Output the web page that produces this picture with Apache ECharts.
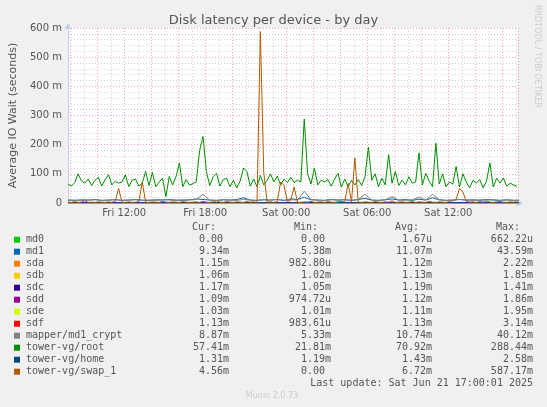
<!DOCTYPE html>
<html>
<head>
<meta charset="utf-8">
<script src="https://cdn.jsdelivr.net/npm/echarts@6/dist/echarts.min.js"></script>
<style>
html,body{margin:0;padding:0;background:#f0f0f0;}
#chart{width:547px;height:407px;}
</style>
</head>
<body>
<div id="chart"></div>
<script>
// ---- data (values in milliseconds, "m") ----
const seriesNames = ['md0','md1','sda','sdb','sdc','sdd','sde','sdf','mapper/md1_crypt','tower-vg/root','tower-vg/home','tower-vg/swap_1'];
const seriesColors = ['#00cc00','#0066b3','#ff8000','#ffcc00','#330099','#990099','#ccff00','#ff0000','#808080','#008f00','#00487d','#b35a00'];
const curText = ['0.00 ','9.34m','1.15m','1.06m','1.17m','1.09m','1.03m','1.13m','8.87m','57.41m','1.31m','4.56m'];
const minText = ['0.00 ','5.38m','982.80u','1.02m','1.05m','974.72u','1.01m','983.61u','5.33m','21.81m','1.19m','0.00 '];
const avgText = ['1.67u','11.07m','1.12m','1.13m','1.19m','1.12m','1.11m','1.13m','10.74m','70.92m','1.43m','6.72m'];
const maxText = ['662.22u','43.59m','2.22m','1.85m','1.41m','1.86m','1.95m','3.14m','40.12m','288.44m','2.58m','587.17m'];
const yTicks = [0,100,200,300,400,500,600];

// sampled every 15 minutes from Fri 07:50
const root = [65,58,70,100,75,68,82,60,78,88,
  58,80,97,62,75,68,72,97,56,78,
  82,58,68,108,60,105,56,72,85,22,
  91,62,90,137,56,80,62,66,73,180,
  228,108,60,90,102,58,80,85,56,78,
  52,75,120,108,58,82,56,94,62,78,
  100,72,92,62,82,70,88,70,78,72,
  288,100,65,120,62,78,72,80,58,82,
  102,55,82,56,78,62,80,60,90,192,
  78,100,56,85,62,166,68,108,60,78,
  62,90,68,72,172,62,102,75,56,205,
  65,100,56,72,65,125,55,100,72,52,
  78,68,80,52,75,137,55,85,68,86,
  58,68,62,57.41];
const swap1 = [3,2,5,2,3,8,2,3,2,4,
  3,2,4,2,6,50,3,2,4,2,
  3,5,72,3,2,4,3,2,6,3,
  2,4,3,2,5,3,2,3,4,2,
  6,3,2,4,8,3,2,5,3,2,
  4,3,2,5,3,4,2,587,105,3,
  4,2,5,72,60,4,10,55,3,2,
  4,3,6,2,3,4,2,5,3,2,
  4,6,3,67,4,155,3,2,4,3,
  2,5,3,2,4,3,8,2,3,4,
  2,3,5,2,4,3,2,6,3,2,
  4,3,2,5,8,12,50,38,6,3,
  4,2,5,3,7,3,2,4,5,3,
  2,4,3,4.56];
// sampled every 30 minutes
const md1 = [10,9,11,10,12,9,10,11,9,10,12,10,9,11,10,12,10,9,11,14,
  12,10,9,11,10,12,18,10,9,11,10,12,9,14,12,20,11,10,9,12,
  10,11,9,12,16,10,9,11,14,10,12,9,13,10,18,11,9,10,12,10,
  11,9,12,10,9,11,9.34,9.34];
const md1crypt = [9,10,8,10,11,9,10,12,9,10,11,9,10,9,12,10,9,11,10,12,
  30,10,9,11,10,9,12,10,9,11,10,12,9,11,10,40,12,10,9,11,
  10,12,9,11,30,10,9,11,22,10,9,11,20,10,30,11,9,10,12,10,
  9,11,10,12,9,10,8.87,8.87];
// sampled every 2 hours
const md0 = [0,0,0,0,0,0,0,0,0,0,0,0,0,0,0,0,0,0];
const sda = [1.1,1.2,1.1,1.0,1.2,1.1,1.1,1.3,1.1,1.0,1.1,1.2,1.1,1.1,1.2,1.1,1.15,1.15];
const sdb = [1.1,1.1,1.2,1.1,1.1,1.2,1.1,1.1,1.2,1.1,1.1,1.2,1.1,1.1,1.1,1.2,1.06,1.06];
const sdc = [1.2,1.2,1.1,1.2,1.2,1.3,1.2,1.2,1.1,1.2,1.2,1.2,1.3,1.2,1.2,1.1,1.17,1.17];
const sdd = [1.1,1.1,1.2,1.1,1.0,1.1,1.2,1.1,1.1,1.1,1.2,1.1,1.1,1.0,1.1,1.2,1.09,1.09];
const sde = [1.1,1.1,1.1,1.2,1.1,1.1,1.1,1.1,1.2,1.1,1.1,1.1,1.2,1.1,1.1,1.1,1.03,1.03];
const sdf = [1.1,1.2,1.1,1.1,1.1,1.2,1.1,1.1,1.1,1.2,1.1,1.1,1.1,1.2,1.1,1.1,1.13,1.13];
const home = [1.4,1.5,1.4,1.3,1.5,1.4,1.6,1.4,1.3,1.5,1.4,1.4,1.5,1.3,1.4,1.5,1.31,1.31];

const seriesData = [[md0,120],[md1,30],[sda,120],[sdb,120],[sdc,120],[sdd,120],[sde,120],[sdf,120],[md1crypt,30],[root,15],[home,120],[swap1,15]];

const START = new Date(2025,5,20,7,50).getTime();
const END = new Date(2025,5,21,17,10).getTime();
const HOUR = 3600000;
const DAYS = ['Sun','Mon','Tue','Wed','Thu','Fri','Sat'];
function pairs(vals, stepMin){ return vals.map((v,i)=>[START + i*stepMin*60000, v]); }
function pad(n){ return (n<10?'0':'')+n; }

const chart = echarts.init(document.getElementById('chart'), null, {renderer:'canvas'});
const FONT = '"DejaVu Sans", sans-serif';
const MONO = '10px "DejaVu Sans Mono", monospace';

const baseX = {type:'time', position:'bottom', min:START, max:END, axisTick:{show:false}, axisLabel:{show:false}, axisLine:{show:false}, splitLine:{show:false}};
const xAxes = [
  Object.assign({}, baseX, {minInterval:HOUR, maxInterval:HOUR,
    splitLine:{show:true, lineStyle:{color:'#d4d4d4', type:[1,2], width:1}},
    axisLabel:{show:true, color:'#555', fontFamily:FONT, fontSize:10, margin:5, hideOverlap:false, interval:0,
      formatter:function(v){ const d=new Date(v); if (d.getMinutes()!==0 || d.getHours()%6!==0) return ''; return DAYS[d.getDay()]+' '+pad(d.getHours())+':'+pad(d.getMinutes()); }}}),
  Object.assign({}, baseX, {minInterval:3*HOUR, maxInterval:3*HOUR,
    splitLine:{show:true, lineStyle:{color:'#f2a8a8', type:[1,2], width:1}}}),
  Object.assign({}, baseX, {minInterval:6*HOUR, maxInterval:6*HOUR,
    axisLine:{show:true, onZero:false, lineStyle:{color:'#c6cde8', width:1}, symbol:['none','arrow'], symbolSize:[6,7], symbolOffset:[0,5]}})
];

const graphics = [];
graphics.push({type:'text', x:537, y:5, rotation:-Math.PI/2, style:{text:'RRDTOOL / TOBI OETIKER', fill:'#cccccc', font:'8px "DejaVu Sans", sans-serif', textAlign:'left', verticalAlign:'middle'}});
const rowY0 = 239.7, rowDy = 12;
const hdrY = 227.7;
[['Cur:',216],['Min:',318],['Avg:',419],['Max:',520]].forEach(h=>{
  graphics.push({type:'text', x:h[1], y:hdrY, style:{text:h[0], fill:'#555', font:MONO, textAlign:'right', verticalAlign:'middle'}});
});
seriesNames.forEach((n,k)=>{
  const y = rowY0 + k*rowDy;
  graphics.push({type:'rect', shape:{x:14, y:y-3, width:6, height:6}, style:{fill:seriesColors[k]}});
  graphics.push({type:'text', x:26, y:y, style:{text:n, fill:'#555', font:MONO, textAlign:'left', verticalAlign:'middle'}});
  graphics.push({type:'text', x:229, y:y, style:{text:curText[k], fill:'#555', font:MONO, textAlign:'right', verticalAlign:'middle'}});
  graphics.push({type:'text', x:331, y:y, style:{text:minText[k], fill:'#555', font:MONO, textAlign:'right', verticalAlign:'middle'}});
  graphics.push({type:'text', x:432, y:y, style:{text:avgText[k], fill:'#555', font:MONO, textAlign:'right', verticalAlign:'middle'}});
  graphics.push({type:'text', x:533, y:y, style:{text:maxText[k], fill:'#555', font:MONO, textAlign:'right', verticalAlign:'middle'}});
});
graphics.push({type:'text', x:533, y:383.5, style:{text:'Last update: Sat Jun 21 17:00:01 2025', fill:'#555', font:MONO, textAlign:'right', verticalAlign:'middle'}});
graphics.push({type:'text', x:272, y:396, style:{text:'Munin 2.0.73', fill:'#cccccc', font:'8px "DejaVu Sans", sans-serif', textAlign:'center', verticalAlign:'middle'}});

const option = {
  animation:false,
  backgroundColor:'#f0f0f0',
  title:{text:'Disk latency per device - by day', left:'center', top:9,
    textStyle:{fontFamily:FONT, fontSize:13, fontWeight:'normal', color:'#555'}},
  grid:{left:67, top:28, width:451, height:175, show:true, backgroundColor:'#ffffff', borderWidth:0},
  xAxis: xAxes,
  yAxis:{type:'value', min:yTicks[0], max:yTicks[yTicks.length-1], interval:100,
    name:'Average IO Wait (seconds)', nameLocation:'middle', nameGap:49, nameRotate:90,
    nameTextStyle:{fontFamily:FONT, fontSize:11, color:'#555'},
    axisLine:{show:true, lineStyle:{color:'#c6cde8', width:1}, symbol:['none','arrow'], symbolSize:[6,7], symbolOffset:[0,5]},
    axisTick:{show:false},
    axisLabel:{color:'#555', fontFamily:FONT, fontSize:10, margin:6, formatter:v=> v===0 ? '0' : v+' m'},
    splitLine:{show:true, lineStyle:{color:'#f2a8a8', type:[1,2], width:1}},
    minorTick:{show:false, splitNumber:5},
    minorSplitLine:{show:true, lineStyle:{color:'#d4d4d4', type:[1,2], width:1}}
  },
  series: seriesData.map((sd,k)=>({
    name:seriesNames[k], type:'line', xAxisIndex:2, showSymbol:false, symbol:'none',
    data:pairs(sd[0], sd[1]), lineStyle:{width:1, color:seriesColors[k]}, itemStyle:{color:seriesColors[k]},
    z:2+k, silent:true
  })),
  graphic: graphics
};
chart.setOption(option);
</script>
</body>
</html>
